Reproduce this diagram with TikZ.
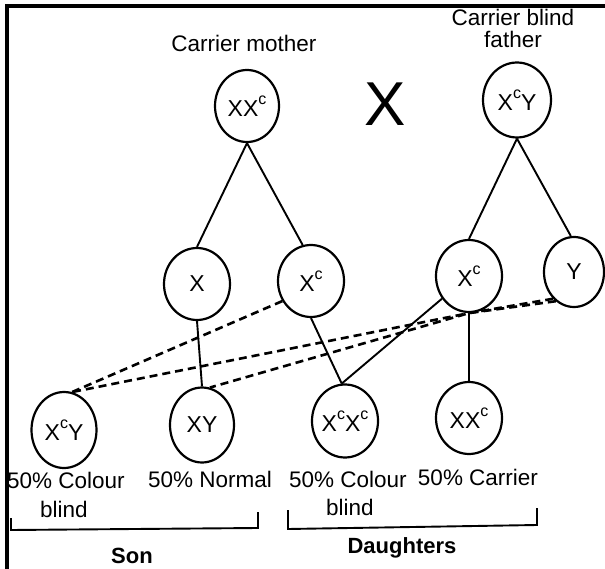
\documentclass[tikz,border=0pt]{standalone}
\usepackage{fontspec}
\setmainfont{Liberation Sans}
\usetikzlibrary{shapes.geometric}
% raised "c" marking the colour-blind allele
\newcommand{\allelec}{\raisebox{0.5em}{\fontsize{16}{16}\selectfont c}}
\begin{document}
\begin{tikzpicture}[x=1pt,y=-1pt,
  gene/.style={draw, ellipse, line width=2.2pt, minimum width=66pt, minimum height=73pt,
    inner sep=0pt, font=\fontsize{23}{23}\selectfont},
  link/.style={line width=1.9pt},
  cross/.style={line width=2.6pt, dash pattern=on 8pt off 5pt},
  caption/.style={font=\fontsize{22.5}{22.5}\selectfont, inner sep=0pt, anchor=base},
  group/.style={font=\bfseries\fontsize{22}{22}\selectfont, inner sep=0pt, anchor=base},
  frame/.style={line width=3.2pt},
  bracket/.style={line width=1.9pt}]
\useasboundingbox (0,0) rectangle (605,569);

% frame along top and left edges
\draw[frame] (7,569) -- (7,6) -- (605,6);

% parents
\node[caption, anchor=center] (mlabel) at (244,43) {Carrier mother};
\node[caption] (flabel1) at (513,26) {Carrier blind};
\node[caption] (flabel2) at (513,48) {father};
\node[gene, minimum width=64pt, minimum height=72pt] (mother) at (247,106) {XX\allelec};
\node[gene, minimum width=68pt, minimum height=75pt] (father) at (517,100) {X\allelec Y};
\node[font=\fontsize{62}{62}\selectfont, inner sep=0pt] (crosssign) at (385,104) {X};

% gametes
\node[gene, minimum height=72pt] (x) at (197,284) {X};
\node[gene, minimum height=72pt] (xcm) at (311,281) {X\allelec};
\node[gene, minimum height=72pt] (xcf) at (469,276) {X\allelec};
\node[gene, minimum width=60pt, minimum height=70pt] (y) at (574,272) {Y};

% offspring
\node[gene, minimum width=65pt, minimum height=76pt] (xcy) at (64,430) {X\allelec Y};
\node[gene, minimum width=64pt, minimum height=75pt] (xy) at (202,425) {XY};
\node[gene, minimum width=66pt] (xcxc) at (345,421) {X\allelec X\allelec};
\node[gene, minimum height=72pt] (xxc) at (469,418) {XX\allelec};

% parent to gamete
\draw[link] (mother.south) -- (x.north);
\draw[link] (mother.south) -- (xcm.103);
\draw[link] (father.south) -- (xcf.north);
\draw[link] (father.south) -- (y.95);

% gamete to offspring
\draw[link] (x.south) -- (xy.north);
\draw[link] (xcm.south) -- (xcxc.95);
\draw[link] (xcf.220) -- (xcxc.95);
\draw[link] (xcf.south) -- (xxc.north);

% sons' crosses
\draw[cross] (xcm.215) -- (xcy.78);
\draw[cross] (y.232) -- (xcf.south) -- (xcy.78);
\draw[cross] (y.238) -- (xcf.south) -- (xy.78);

% offspring captions
\node[caption] (c1a) at (66,488) {50\% Colour};
\node[caption] (c1b) at (64,517) {blind};
\node[caption] (c2) at (210,487) {50\% Normal};
\node[caption] (c3a) at (348,487) {50\% Colour};
\node[caption] (c3b) at (350,515) {blind};
\node[caption] (c4) at (478,485) {50\% Carrier};

% groupings
\draw[bracket] (11,518) -- (11,530) -- (258,528) -- (258,512);
\draw[bracket] (288,510) -- (288,529) -- (537,525) -- (537,508);
\node[group] (son) at (132,563) {Son};
\node[group] (daughters) at (402,553) {Daughters};
\end{tikzpicture}
\end{document}
